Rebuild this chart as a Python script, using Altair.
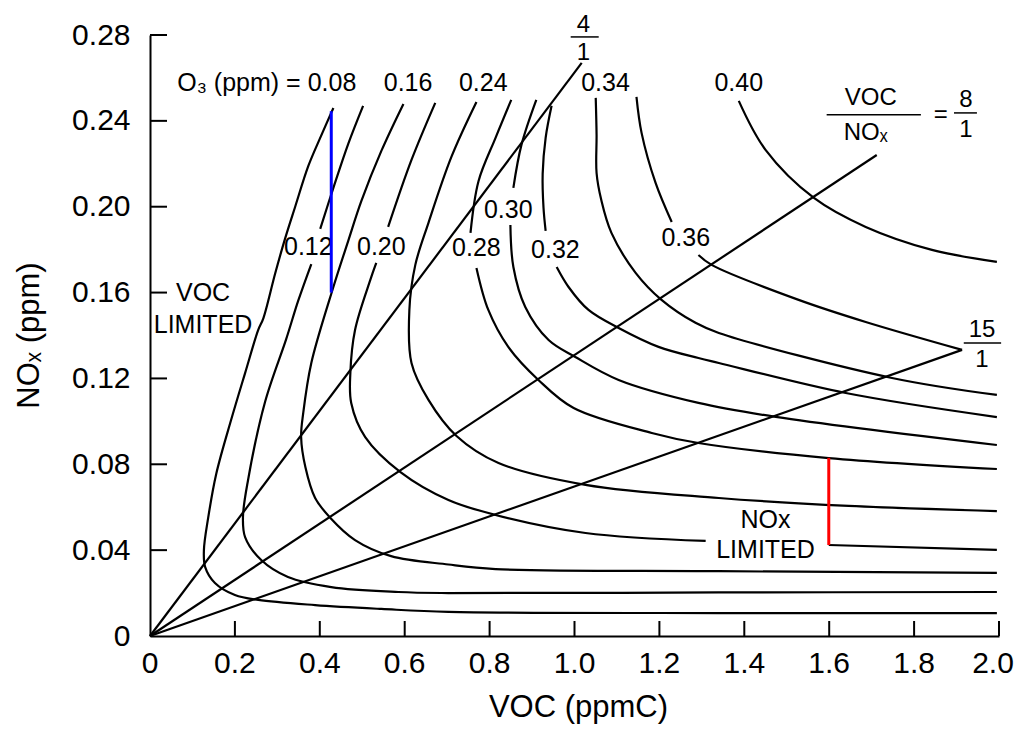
import altair as alt
import pandas as pd

# ---------------- data ----------------
# O3 isopleths (x = VOC ppmC, y = NOx ppm); *_breaks = index where a new segment starts (label gaps)
o3_008_x = [0.432, 0.403, 0.373, 0.342, 0.318, 0.295, 0.267, 0.255, 0.224, 0.191, 0.156, 0.137, 0.127, 0.130, 0.153, 0.200, 0.255, 0.389, 0.545, 0.703, 1.340, 1.995]
o3_008_y = [0.246, 0.233, 0.219, 0.200, 0.185, 0.169, 0.148, 0.1426, 0.1225, 0.1006, 0.0755, 0.0550, 0.0400, 0.0321, 0.0247, 0.0191, 0.0168, 0.0144, 0.0126, 0.0112, 0.0107, 0.0107]
o3_008_breaks = []

o3_012_x = [0.502, 0.467, 0.432, 0.401, 0.380, 0.349, 0.321, 0.271, 0.231, 0.219, 0.224, 0.262, 0.325, 0.427, 0.585, 0.703, 1.340, 1.995]
o3_012_y = [0.2470, 0.2293, 0.2088, 0.1897, 0.1733, 0.1561, 0.1384, 0.1090, 0.0727, 0.0555, 0.0461, 0.0354, 0.0275, 0.0228, 0.0205, 0.0200, 0.0203, 0.0205]
o3_012_breaks = [4]

o3_016_x = [0.597, 0.545, 0.498, 0.467, 0.432, 0.380, 0.361, 0.356, 0.366, 0.389, 0.425, 0.483, 0.568, 0.703, 0.814, 1.340, 1.995]
o3_016_y = [0.2479, 0.2260, 0.2027, 0.1841, 0.1626, 0.1272, 0.1039, 0.0927, 0.0787, 0.0643, 0.0550, 0.0447, 0.0372, 0.0333, 0.0312, 0.0302, 0.0294]
o3_016_breaks = []

o3_020_x = [0.672, 0.616, 0.561, 0.533, 0.519, 0.483, 0.472, 0.474, 0.507, 0.590, 0.703, 0.814, 1.026, 1.309, 1.599, 1.995]
o3_020_y = [0.2484, 0.2218, 0.1906, 0.1738, 0.1659, 0.1426, 0.1226, 0.1086, 0.0927, 0.0764, 0.0634, 0.0564, 0.0480, 0.0443, 0.0424, 0.0401]
o3_020_breaks = [3, 14]

o3_024_x = [0.769, 0.710, 0.656, 0.625, 0.611, 0.616, 0.656, 0.722, 0.821, 1.026, 1.340, 1.646, 1.995]
o3_024_y = [0.2488, 0.2232, 0.1925, 0.1729, 0.1519, 0.1272, 0.1100, 0.0932, 0.0806, 0.0704, 0.0643, 0.0606, 0.0582]
o3_024_breaks = []

o3_028_x = [0.851, 0.814, 0.774, 0.755, 0.769, 0.797, 0.844, 0.915, 0.998, 1.182, 1.292, 1.599, 1.995]
o3_028_y = [0.2498, 0.2321, 0.2120, 0.1878, 0.1715, 0.1519, 0.1347, 0.1193, 0.1062, 0.0946, 0.0899, 0.0829, 0.0778]
o3_028_breaks = [4]

o3_030_x = [0.910, 0.875, 0.856, 0.849, 0.856, 0.884, 0.939, 1.002, 1.104, 1.292, 1.474, 1.995]
o3_030_y = [0.2498, 0.2288, 0.2088, 0.1915, 0.1719, 0.1533, 0.1379, 0.1300, 0.1193, 0.1086, 0.1021, 0.0890]
o3_030_breaks = [3]

o3_032_x = [0.946, 0.932, 0.925, 0.927, 0.932, 0.958, 0.986, 1.033, 1.104, 1.198, 1.292, 1.340, 1.639, 1.995]
o3_032_y = [0.2470, 0.2321, 0.2153, 0.1995, 0.1888, 0.1719, 0.1626, 0.1519, 0.1435, 0.1347, 0.1295, 0.1272, 0.1132, 0.1020]
o3_032_breaks = [5]

o3_034_x = [1.050, 1.052, 1.052, 1.063, 1.087, 1.144, 1.205, 1.285, 1.340, 1.748, 1.995]
o3_034_y = [0.2507, 0.2335, 0.2157, 0.2032, 0.1878, 0.1692, 0.1566, 0.1459, 0.1412, 0.1202, 0.1123]
o3_034_breaks = []

o3_036_x = [1.146, 1.158, 1.191, 1.229, 1.292, 1.323, 1.528, 1.686, 1.913]
o3_036_y = [0.2512, 0.2344, 0.2111, 0.1929, 0.1775, 0.1729, 0.1566, 0.1463, 0.1333]
o3_036_breaks = [4]

o3_040_x = [1.387, 1.450, 1.564, 1.686, 1.842, 1.995]
o3_040_y = [0.2493, 0.2265, 0.2041, 0.1906, 0.1799, 0.1743]
o3_040_breaks = []

# VOC/NOx ratio lines from the origin
ratio_names = ["4:1", "8:1", "15:1"]
ratio_end_x = [1.017, 1.712, 1.913]
ratio_end_y = [0.2670, 0.2241, 0.1333]

# isopleth labels
iso_label_text = ["0.12", "0.20", "0.28", "0.30", "0.32", "0.36", "0.16", "0.24", "0.34", "0.40"]
iso_label_x = [0.373, 0.545, 0.769, 0.844, 0.955, 1.262, 0.608, 0.785, 1.073, 1.387]
iso_label_y = [0.1813, 0.1813, 0.1808, 0.1985, 0.1799, 0.1855, 0.2577, 0.2577, 0.2577, 0.2577]

o3_title_text = ["O\u2083 (ppm) = 0.08"]
o3_title_x = [0.486]
o3_title_y = [0.2577]

# fraction labels of the ratio lines
frac_text = ["4", "1", "VOC", "NO\u2093", "=", "8", "1", "15", "1"]
frac_x = [1.021, 1.021, 1.698, 1.686, 1.863, 1.922, 1.922, 1.960, 1.960]
frac_y = [0.2847, 0.2717, 0.2507, 0.2344, 0.2428, 0.2498, 0.2358, 0.1426, 0.1286]
bar_x1 = [0.991, 1.594, 1.894, 1.917]
bar_x2 = [1.057, 1.816, 1.948, 2.005]
bar_y = [0.2791, 0.2428, 0.2437, 0.1365]

# regime labels
region_text = ["VOC", "LIMITED", "NOx", "LIMITED"]
region_x = [0.125, 0.125, 1.450, 1.450]
region_y = [0.1600, 0.1449, 0.0541, 0.0401]

# coloured marker segments
marker_x = [0.427, 1.599]
marker_y1 = [0.160, 0.0424]
marker_y2 = [0.2445, 0.0830]
marker_color = ["#0000ff", "#ff0000"]

# axis ticks and x tick labels
x_tick_values = [0.2, 0.4, 0.6, 0.8, 1.0, 1.2, 1.4, 1.6, 1.8, 2.0]
x_label_values = [0.0, 0.2, 0.4, 0.6, 0.8, 1.0, 1.2, 1.4, 1.6, 1.8]
x_label_text = ["0", "0.2", "0.4", "0.6", "0.8", "1.0", "1.2", "1.4", "1.6", "1.8"]
x_last_label_value = [2.0]
x_last_label_text = ["2.0"]
y_tick_values = [0.04, 0.08, 0.12, 0.16, 0.20, 0.24, 0.28]

# ---------------- build tables ----------------
curves = [
    ("0.08", o3_008_x, o3_008_y, o3_008_breaks),
    ("0.12", o3_012_x, o3_012_y, o3_012_breaks),
    ("0.16", o3_016_x, o3_016_y, o3_016_breaks),
    ("0.20", o3_020_x, o3_020_y, o3_020_breaks),
    ("0.24", o3_024_x, o3_024_y, o3_024_breaks),
    ("0.28", o3_028_x, o3_028_y, o3_028_breaks),
    ("0.30", o3_030_x, o3_030_y, o3_030_breaks),
    ("0.32", o3_032_x, o3_032_y, o3_032_breaks),
    ("0.34", o3_034_x, o3_034_y, o3_034_breaks),
    ("0.36", o3_036_x, o3_036_y, o3_036_breaks),
    ("0.40", o3_040_x, o3_040_y, o3_040_breaks),
]
rows = []
for lvl, xs, ys, br in curves:
    seg = 0
    for i, (xv, yv) in enumerate(zip(xs, ys)):
        if i in br:
            seg += 1
        rows.append({"key": f"{lvl}-{seg}", "i": i, "x": xv, "y": yv})
iso_df = pd.DataFrame(rows)

ratio_df = pd.DataFrame({"name": ratio_names, "x0": [0.0] * 3, "y0": [0.0] * 3,
                         "x1": ratio_end_x, "y1": ratio_end_y})
iso_lab_df = pd.DataFrame({"t": iso_label_text, "x": iso_label_x, "y": iso_label_y})
o3_df = pd.DataFrame({"t": o3_title_text, "x": o3_title_x, "y": o3_title_y})
frac_df = pd.DataFrame({"t": frac_text, "x": frac_x, "y": frac_y})
bar_df = pd.DataFrame({"x1": bar_x1, "x2": bar_x2, "y": bar_y})
reg_df = pd.DataFrame({"t": region_text, "x": region_x, "y": region_y})
mark_df = pd.DataFrame({"x": marker_x, "y1": marker_y1, "y2": marker_y2, "c": marker_color})
xt_df = pd.DataFrame({"v": x_tick_values})
yt_df = pd.DataFrame({"v": y_tick_values})
xl_df = pd.DataFrame({"v": x_label_values, "t": x_label_text})
xl_last_df = pd.DataFrame({"v": x_last_label_value, "t": x_last_label_text})

# ---------------- chart ----------------
FONT = "Liberation Sans"
W, H = 849, 601
LW = 2.2

xscale = alt.Scale(domain=[0, 2], nice=False, zero=False)
yscale = alt.Scale(domain=[0, 0.28], nice=False, zero=False)

xaxis = alt.Axis(values=[0] + x_tick_values, labels=False,
                 ticks=False, tickSize=0, grid=False,
                 domainColor="black", domainWidth=2,
                 title="VOC (ppmC)", titleFont=FONT, titleFontSize=31,
                 titleFontWeight="normal", titleColor="black",
                 titleX=428, titleY=80, titleAlign="center", titleBaseline="alphabetic")
yaxis = alt.Axis(values=[0] + y_tick_values,
                 labelExpr="datum.value == 0 ? '0' : format(datum.value, '.2f')",
                 ticks=False, tickSize=0, grid=False,
                 domainColor="black", domainWidth=2,
                 labelFont=FONT, labelFontSize=30, labelColor="black",
                 labelPadding=20, labelFlush=False, labelOverlap=False, labelBound=False,
                 title="NO\u2093 (ppm)", titleFont=FONT, titleFontSize=31,
                 titleFontWeight="normal", titleColor="black",
                 titleX=-112, titleY=300, titleAngle=270, titleAlign="center",
                 titleBaseline="alphabetic")


def X(f):
    return alt.X(f, type="quantitative", scale=xscale, axis=xaxis)


def Y(f):
    return alt.Y(f, type="quantitative", scale=yscale, axis=yaxis)


iso = alt.Chart(iso_df).mark_line(color="black", strokeWidth=LW, interpolate="catmull-rom").encode(
    x=X("x"), y=Y("y"), detail="key:N", order="i:Q")

ratios = alt.Chart(ratio_df).mark_rule(color="black", strokeWidth=LW).encode(
    x=X("x0"), y=Y("y0"), x2="x1", y2="y1")

bars = alt.Chart(bar_df).mark_rule(color="black", strokeWidth=1.5).encode(
    x=X("x1"), x2="x2", y=Y("y"))

yticks = alt.Chart(yt_df).mark_rule(color="black", strokeWidth=2).encode(
    y=Y("v"), x=alt.value(0), x2=alt.value(17))
xticks = alt.Chart(xt_df).mark_rule(color="black", strokeWidth=2).encode(
    x=X("v"), y=alt.value(H), y2=alt.value(H - 15))

xlabels = alt.Chart(xl_df).mark_text(font=FONT, fontSize=30, color="black",
                                     align="center", baseline="middle").encode(
    x=X("v"), y=alt.value(H + 28), text="t:N")
xlabel_last = alt.Chart(xl_last_df).mark_text(font=FONT, fontSize=30, color="black",
                                              align="center", baseline="middle", dx=-6).encode(
    x=X("v"), y=alt.value(H + 28), text="t:N")

iso_labels = alt.Chart(iso_lab_df).mark_text(font=FONT, fontSize=25, color="black",
                                             align="center", baseline="middle").encode(
    x=X("x"), y=Y("y"), text="t:N")

o3_label = alt.Chart(o3_df).mark_text(font=FONT, fontSize=25, color="black",
                                      align="right", baseline="middle").encode(
    x=X("x"), y=Y("y"), text="t:N")

frac_labels = alt.Chart(frac_df).mark_text(font=FONT, fontSize=24, color="black",
                                           align="center", baseline="middle").encode(
    x=X("x"), y=Y("y"), text="t:N")

region_labels = alt.Chart(reg_df).mark_text(font=FONT, fontSize=25, color="black",
                                            align="center", baseline="middle").encode(
    x=X("x"), y=Y("y"), text="t:N")

markers = alt.Chart(mark_df).mark_rule(strokeWidth=3).encode(
    x=X("x"), y=Y("y1"), y2="y2", color=alt.Color("c:N", scale=None))

chart = alt.layer(
    iso, ratios, bars, yticks, xticks, xlabels, xlabel_last,
    iso_labels, o3_label, frac_labels, region_labels, markers
).properties(
    width=W, height=H,
    padding={"left": 142, "top": 27, "right": 15, "bottom": 89},
    autosize=alt.AutoSizeParams(type="none"),
    background="white",
).configure_view(stroke=None)

chart.save("out.html", embed_options={"renderer": "svg", "actions": False})
